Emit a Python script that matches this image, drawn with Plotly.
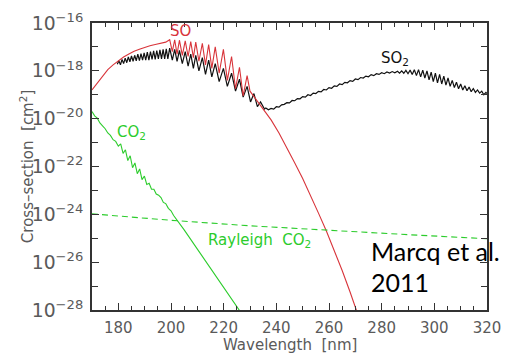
import plotly.graph_objects as go

# ---------------- data ----------------
# SO2 (black): wavelength [nm], log10(cross-section [cm^2])
so2_wl = [179.6, 180.2, 180.8, 181.4, 182.0, 182.6, 183.2, 183.8, 184.4, 185.0, 185.6, 186.2, 186.8,
          187.4, 188.0, 188.6, 189.2, 189.8, 190.4, 191.0, 191.6, 192.2, 192.8, 193.4, 194.0, 194.6,
          195.2, 195.8, 196.4, 197.0, 197.6, 198.2, 198.8,
          199.5, 200.5, 201.4, 202.3, 203.2, 204.3, 205.4, 206.5, 207.5, 208.5, 209.4, 210.6, 211.9,
          213.1, 214.3, 215.5, 216.8, 218.3, 219.9, 221.4, 223.0, 224.5, 226.0, 227.4, 228.9, 230.2,
          231.5, 232.8, 234.0, 235.5,
          236, 237, 238, 239, 240, 241, 242, 243, 244, 245, 246, 247, 248, 249, 250, 251, 252, 253,
          254, 255, 256, 257, 258, 259, 260, 261, 262, 263, 264, 265, 266, 267, 268, 269, 270, 271,
          272, 273, 274, 275, 276, 277, 278, 279, 280, 281, 282, 283, 284, 285,
          286.0, 286.8, 287.6, 288.4, 289.2, 290.0, 290.8, 291.6, 292.4, 293.2, 294.0, 294.8, 295.6,
          296.4, 297.2, 298.0, 298.8, 299.6, 300.4, 301.2, 302.0, 302.8, 303.6, 304.4, 305.2, 306.0,
          306.8, 307.6, 308.4, 309.2, 310.0, 310.8, 311.6, 312.4, 313.2, 314.0, 314.8, 315.6, 316.4,
          317.2, 318.0, 318.8, 319.6, 320.0]
so2_log = [-17.72, -17.58, -17.75, -17.52, -17.70, -17.47, -17.66, -17.42, -17.62, -17.38, -17.60,
           -17.35, -17.58, -17.30, -17.57, -17.28, -17.55, -17.25, -17.55, -17.22, -17.55, -17.20,
           -17.52, -17.17, -17.52, -17.15, -17.50, -17.12, -17.50, -17.10, -17.50, -17.08, -17.50,
           -17.05, -17.55, -17.10, -17.60, -17.15, -17.70, -17.20, -17.80, -17.30, -17.90, -17.35,
           -18.00, -17.45, -18.15, -17.55, -18.25, -17.70, -18.45, -17.90, -18.65, -18.10, -18.85,
           -18.35, -19.10, -18.65, -19.30, -18.95, -19.50, -19.30, -19.60,
           -19.55, -19.63, -19.57, -19.60, -19.50, -19.52, -19.42, -19.40, -19.33, -19.34, -19.24,
           -19.25, -19.16, -19.17, -19.08, -19.10, -19.00, -19.03, -18.93, -18.95, -18.86, -18.88,
           -18.78, -18.80, -18.70, -18.73, -18.63, -18.65, -18.55, -18.58, -18.48, -18.50, -18.41,
           -18.44, -18.34, -18.37, -18.28, -18.30, -18.22, -18.25, -18.16, -18.20, -18.12, -18.15,
           -18.08, -18.12, -18.05, -18.09, -18.03, -18.08,
           -18.02, -18.10, -18.00, -18.10, -17.98, -18.12, -17.97, -18.15, -17.95, -18.20, -17.95,
           -18.25, -17.97, -18.30, -18.00, -18.38, -18.05, -18.45, -18.10, -18.50, -18.15, -18.55,
           -18.22, -18.60, -18.30, -18.65, -18.40, -18.70, -18.48, -18.75, -18.55, -18.80, -18.62,
           -18.83, -18.68, -18.87, -18.74, -18.90, -18.80, -18.93, -18.85, -19.00, -18.90, -18.95]

# SO (red)
so_wl = [170, 172, 174, 176, 178, 180, 182, 184, 186, 188, 190, 192, 194, 196, 198,
         199.5, 200.5, 201.4, 202.3, 203.2, 204.3, 205.4, 206.5, 207.5, 208.5, 209.4, 210.6, 211.9,
         213.1, 214.3, 215.5, 216.8, 218.3, 219.9, 221.4, 223.0, 224.5, 226.0, 227.4, 228.9, 230.0,
         232, 235, 238, 241, 244, 247, 250, 253, 256, 259, 262, 265, 268, 271]
so_log = [-18.80, -18.50, -18.20, -17.95, -17.75, -17.58, -17.42, -17.30, -17.18, -17.10, -17.02,
          -16.95, -16.90, -16.85, -16.80,
          -16.70, -17.20, -16.70, -17.30, -16.72, -17.35, -16.75, -17.40, -16.78, -17.45, -16.80,
          -17.60, -16.85, -17.75, -16.90, -17.90, -17.00, -18.10, -17.10, -18.40, -17.40, -18.75,
          -17.85, -19.05, -18.20, -18.85,
          -19.15, -19.60, -20.05, -20.60, -21.20, -21.85, -22.50, -23.20, -23.95, -24.70, -25.50,
          -26.35, -27.25, -28.20]

# CO2 absorption (green, solid)
co2_wl = [170, 171, 172, 173, 174, 175, 176, 177, 178, 179, 180, 180.9, 181.8, 182.7, 183.6, 184.5,
          185.4, 186.3, 187.2, 188.1, 189.0, 189.9, 190.8, 191.7, 192.6, 193.5, 194.4, 195.3, 196.2,
          197.1, 198, 199, 200, 201, 205, 210, 215, 220, 225, 226.5]
co2_log = [-19.70, -19.88, -19.98, -20.18, -20.30, -20.42, -20.60, -20.70, -20.88, -20.95, -21.15,
           -21.05, -21.45, -21.30, -21.75, -21.55, -22.05, -21.85, -22.30, -22.10, -22.55, -22.40,
           -22.75, -22.70, -22.95, -22.95, -23.15, -23.20, -23.30, -23.50, -23.55, -23.75, -23.85,
           -24.05, -24.65, -25.45, -26.25, -27.05, -27.85, -28.10]

# Rayleigh CO2 (green, dashed)
ray_wl = [170, 200, 230, 260, 290, 320]
ray_log = [-23.98, -24.25, -24.48, -24.68, -24.85, -25.02]

x_tick_vals = [180, 200, 220, 240, 260, 280, 300, 320]

# ---------------- figure ----------------
def pw(v):
    return [10 ** e for e in v]

RED = "#d8343a"
GREEN = "#2ccc2c"
BLACK = "#111111"
GRAY = "#5a5a5a"

fig = go.Figure()
fig.add_trace(go.Scatter(x=so2_wl, y=pw(so2_log), mode="lines",
                         line=dict(color=BLACK, width=1.2), showlegend=False))
fig.add_trace(go.Scatter(x=so_wl, y=pw(so_log), mode="lines",
                         line=dict(color=RED, width=1.1), showlegend=False))
fig.add_trace(go.Scatter(x=co2_wl, y=pw(co2_log), mode="lines",
                         line=dict(color=GREEN, width=1.1), showlegend=False))
fig.add_trace(go.Scatter(x=ray_wl, y=pw(ray_log), mode="lines",
                         line=dict(color=GREEN, width=1.1, dash="6px,4px"), showlegend=False))

FONT = "DejaVu Sans"
fig.update_layout(
    width=511, height=360,
    margin=dict(l=92, r=14, t=10, b=50),
    paper_bgcolor="white", plot_bgcolor="white",
    font=dict(family=FONT, size=15, color=GRAY),
    xaxis=dict(range=[170, 320], tickvals=x_tick_vals, ticks="inside", ticklen=7,
               tickwidth=1.2, tickcolor="#333", showline=True, linecolor="#333", linewidth=1.5,
               mirror="ticks", showgrid=False, zeroline=False,
               minor=dict(dtick=5, tick0=0, ticks="inside", ticklen=4, tickcolor="#333",
                          showgrid=False),
               tickfont=dict(family=FONT, size=15, color=GRAY), ticklabelstandoff=3,
               ticklabeloverflow="allow"),
    yaxis=dict(type="log", range=[-28, -16], dtick=2, tick0=0, exponentformat="power",
               ticks="inside", ticklen=7, tickwidth=1.2, tickcolor="#333",
               showline=True, linecolor="#333", linewidth=1.5, mirror="ticks",
               showgrid=False, zeroline=False,
               minor=dict(dtick=1, ticks="inside", ticklen=6, tickcolor="#333", showgrid=False),
               tickfont=dict(family=FONT, size=15, color=GRAY), ticklabelstandoff=4,
               ticklabeloverflow="allow"),
)

def px(x, y):
    return (x - 92) / 405.0, (310 - y) / 300.0

def ann(text, x, y, color, size=15, family=FONT, xanchor="center", angle=0):
    ax, ay = px(x, y)
    fig.add_annotation(text=text, x=ax, y=ay, xref="paper", yref="paper", showarrow=False,
                       xanchor=xanchor, yanchor="middle", textangle=angle,
                       font=dict(color=color, size=size, family=family))

ann("SO", 183, 18, RED)
ann("SO<sub>2</sub>", 403, 47, BLACK)
ann("CO<sub>2</sub>", 133, 124, GREEN)
ann("Rayleigh  CO<sub>2</sub>", 264, 237, GREEN)
ann("Marcq et al.", 376, 248, "black", size=25, family="Lato", xanchor="left")
ann("2011", 376, 281, "black", size=25, family="Lato", xanchor="left")
ann("Cross\u2013section  [cm<sup>2</sup>]", 25, 160, GRAY, size=15, angle=-90)
ann("Wavelength  [nm]", 295, 347, GRAY, size=15)

fig.write_html("out.html", config={"displayModeBar": False},
               post_script="document.body.style.margin='0px';")
